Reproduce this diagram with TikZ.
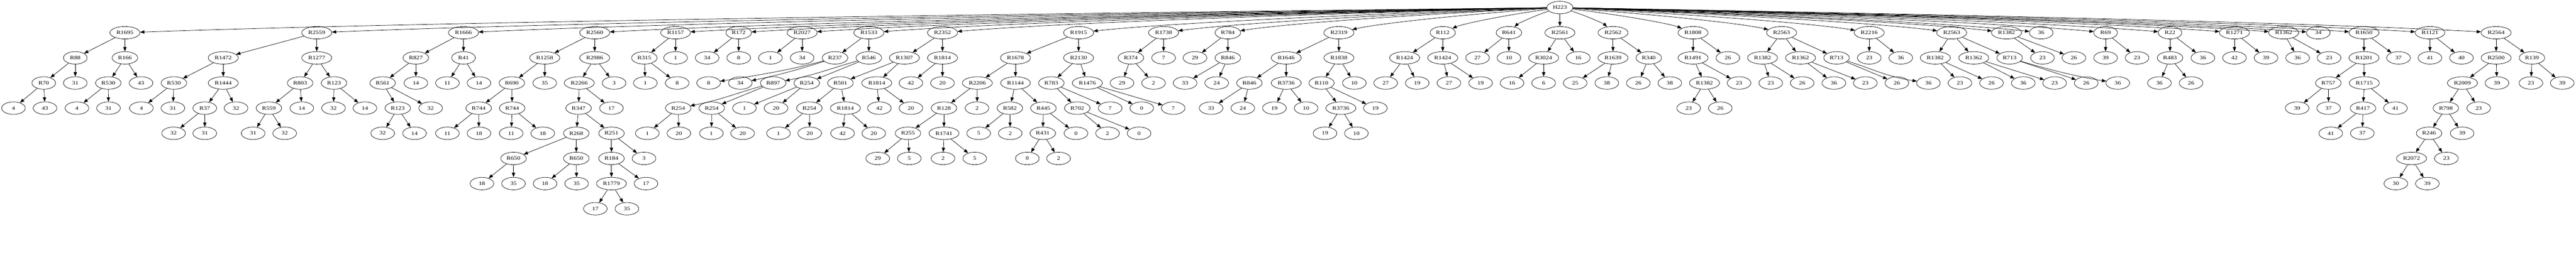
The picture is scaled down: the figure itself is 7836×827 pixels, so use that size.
\documentclass[tikz,border=0pt]{standalone}
\usepackage{fontspec}
\setmainfont{Liberation Serif}[FakeStretch=1.24]
\usetikzlibrary{arrows.meta,shapes.geometric}
\tikzset{
  nd/.style={ellipse, draw, line width=0.28pt, minimum width=18pt, minimum height=9.5pt,
    inner xsep=1.625pt, inner ysep=0pt, font=\fontsize{3.9}{4.5}\selectfont},
  edge/.style={line width=0.28pt, -{Triangle[length=3.3pt,width=2.5pt]}},
}
\newcommand\ND[4]{\node[nd] (#1) at (#2,{23+76.5*#3}) {#4};}
\newcommand\CH[5]{\ND{#2}{#3}{#4}{#5}\draw[edge] (#1) -- (#2);}
\newcommand\CC[7]{\ND{#2}{#3}{#4}{#5}\draw[edge] (#1) .. controls +#6 and +#7 .. (#2);}
\newcommand\RT[3]{\ND{#1}{#2}{1}{#3}\draw[edge] (root) .. controls ({(4745+#2)/2},47.7) and ({#2+(4745-#2)/6},73.2) .. (#1);}
\begin{document}
\begin{tikzpicture}[x=0.25pt,y=-0.25pt]
\fill[white] (0,0) rectangle (7836,827);
\useasboundingbox (0,0) rectangle (7836,827);
\ND{root}{4745}{0}{H223}
% 1
\RT{a}{380}{R1695}
\CH{a}{aa}{229}{2}{R88}
\CH{aa}{aaa}{133}{3}{R70}
\CH{aaa}{aaaa}{41}{4}{4}
\CH{aaa}{aaab}{137}{4}{43}
\CH{aa}{aab}{229}{3}{31}
\CH{a}{ab}{380}{2}{R166}
\CH{ab}{aba}{329.5}{3}{R530}
\CH{aba}{abaa}{234}{4}{4}
\CH{aba}{abab}{330}{4}{31}
\CH{ab}{abb}{429}{3}{43}
% 2
\RT{b}{963.5}{R2559}
\CH{b}{ba}{679}{2}{R1472}
\CH{ba}{baa}{529}{3}{R530}
\CH{baa}{baaa}{430}{4}{4}
\CH{baa}{baab}{526}{4}{31}
\CH{ba}{bab}{679}{3}{R1444}
\CH{bab}{baba}{623}{4}{R37}
\CH{baba}{babaa}{528}{5}{32}
\CH{baba}{babab}{623}{5}{31}
\CH{bab}{babb}{718}{4}{32}
\CH{b}{bb}{963.5}{2}{R1277}
\CH{bb}{bba}{913}{3}{R803}
\CH{bba}{bbaa}{818}{4}{R559}
\CH{bbaa}{bbaaa}{770}{5}{31}
\CH{bbaa}{bbaab}{866}{5}{32}
\CH{bba}{bbab}{918}{4}{14}
\CH{bb}{bbb}{1016}{3}{R123}
\CH{bbb}{bbba}{1014.5}{4}{32}
\CH{bbb}{bbbb}{1110}{4}{14}
% 3
\RT{c}{1410}{R1666}
\CH{c}{ca}{1265}{2}{R827}
\CH{ca}{caa}{1164}{3}{R561}
\CH{caa}{caaa}{1210}{4}{R123}
\CH{caaa}{caaaa}{1164}{5}{32}
\CH{caaa}{caaab}{1261}{5}{14}
\CH{caa}{caab}{1310}{4}{32}
\CH{ca}{cab}{1265}{3}{14}
\CH{c}{cb}{1410}{2}{R41}
\CH{cb}{cba}{1361}{3}{11}
\CH{cb}{cbb}{1457}{3}{14}
% 4
\RT{d}{1809}{R2560}
\CH{d}{da}{1657}{2}{R1258}
\CH{da}{daa}{1557}{3}{R690}
\CH{daa}{daaa}{1456}{4}{R744}
\CH{daaa}{daaaa}{1361}{5}{11}
\CH{daaa}{daaab}{1457}{5}{18}
\CH{daa}{daab}{1558}{4}{R744}
\CH{daab}{daaba}{1555}{5}{11}
\CH{daab}{daabb}{1651}{5}{18}
\CH{da}{dab}{1657}{3}{35}
\CH{d}{db}{1809}{2}{R2986}
\CH{db}{dba}{1762}{3}{R2266}
\CH{dba}{dbaa}{1760}{4}{R347}
\CH{dbaa}{dbaaa}{1753}{5}{R268}
\CH{dbaaa}{dbaaaa}{1562}{6}{R650}
\CH{dbaaaa}{dbaaaaa}{1466}{7}{18}
\CH{dbaaaa}{dbaaaab}{1562}{7}{35}
\CH{dbaaa}{dbaaab}{1753}{6}{R650}
\CH{dbaaab}{dbaaaba}{1658}{7}{18}
\CH{dbaaab}{dbaaabb}{1754}{7}{35}
\CH{dbaa}{dbaab}{1860}{5}{R251}
\CH{dbaab}{dbaaba}{1860}{6}{R184}
\CH{dbaaba}{dbaabaa}{1860}{7}{R1779}
\CH{dbaabaa}{dbaabaaa}{1811}{8}{17}
\CH{dbaabaa}{dbaabaab}{1907}{8}{35}
\CH{dbaaba}{dbaabab}{1965}{7}{17}
\CH{dbaab}{dbaabb}{1959}{6}{3}
\CH{dba}{dbab}{1860}{4}{17}
\CH{db}{dbb}{1868}{3}{3}
% 5
\RT{e}{2055}{R1157}
\CH{e}{ea}{1960}{2}{R315}
\CH{ea}{eaa}{1963}{3}{1}
\CH{ea}{eab}{2060}{3}{8}
\CH{e}{eb}{2055}{2}{1}
% 6
\RT{f}{2247}{R172}
\CH{f}{fa}{2151}{2}{34}
\CH{f}{fb}{2247}{2}{8}
% 7
\RT{g}{2440}{R2027}
\CH{g}{ga}{2343.5}{2}{1}
\CH{g}{gb}{2440}{2}{34}
% 8
\RT{h}{2643}{R1533}
\CH{h}{ha}{2540}{2}{R237}
\CC{ha}{haa}{2155.5}{3}{8}{(-130,35)}{(160,-25)}
\CC{ha}{hab}{2252}{3}{34}{(-110,35)}{(120,-25)}
\CH{h}{hb}{2643}{2}{R546}
\CC{hb}{hba}{2352}{3}{R897}{(-110,30)}{(130,-25)}
\CH{hb}{hbb}{2454}{3}{R254}
\CC{hba}{hbaa}{2063}{4}{R254}{(-110,30)}{(130,-25)}
\CH{hba}{hbab}{2165}{4}{R254}
\CH{hbaa}{hbaaa}{1969}{5}{1}
\CH{hbaa}{hbaab}{2065}{5}{20}
\CH{hbab}{hbaba}{2164}{5}{1}
\CH{hbab}{hbabb}{2259}{5}{20}
\CH{hbb}{hbba}{2264.5}{4}{1}
\CH{hbb}{hbbb}{2360.6}{4}{20}
% 9
\RT{i}{2867}{R2352}
\CH{i}{ia}{2751}{2}{R1307}
\CH{ia}{iaa}{2556.5}{3}{R501}
\CH{iaa}{iaaa}{2462}{4}{R254}
\CH{iaaa}{iaaaa}{2368}{5}{1}
\CH{iaaa}{iaaab}{2463}{5}{20}
\CH{iaa}{iaab}{2571.6}{4}{R1814}
\CH{iaab}{iaaba}{2563}{5}{42}
\CH{iaab}{iaabb}{2658}{5}{20}
\CH{ia}{iab}{2667}{3}{R1814}
\CH{iab}{iaba}{2675}{4}{42}
\CH{iab}{iabb}{2771}{4}{20}
\CH{i}{ib}{2867}{2}{R1814}
\CH{ib}{iba}{2771}{3}{42}
\CH{ib}{ibb}{2867}{3}{20}
% 10
\RT{j}{3281}{R1915}
\CH{j}{ja}{3089}{2}{R1678}
\CH{ja}{jaa}{2973}{3}{R2206}
\CH{jaa}{jaaa}{2871.5}{4}{R128}
\CH{jaaa}{jaaaa}{2762}{5}{R255}
\CH{jaaaa}{jaaaaa}{2670}{6}{29}
\CH{jaaaa}{jaaaab}{2766}{6}{5}
\CH{jaaa}{jaaab}{2871.5}{5}{R1741}
\CH{jaaab}{jaaaba}{2868.6}{6}{2}
\CH{jaaab}{jaaabb}{2965}{6}{5}
\CH{jaa}{jaab}{2972}{4}{2}
\CH{ja}{jab}{3089}{3}{R1144}
\CH{jab}{jaba}{3072}{4}{R582}
\CH{jaba}{jabaa}{2977}{5}{5}
\CH{jaba}{jabab}{3073}{5}{2}
\CH{jab}{jabb}{3174}{4}{R445}
\CH{jabb}{jabba}{3172}{5}{R431}
\CH{jabba}{jabbaa}{3125}{6}{0}
\CH{jabba}{jabbab}{3220}{6}{2}
\CH{jabb}{jabbb}{3273}{5}{0}
\CH{j}{jb}{3281}{2}{R2130}
\CH{jb}{jba}{3198}{3}{R783}
\CH{jba}{jbaa}{3277}{4}{R702}
\CH{jbaa}{jbaaa}{3369}{5}{2}
\CH{jbaa}{jbaab}{3465}{5}{0}
\CH{jba}{jbab}{3377}{4}{7}
\CH{jb}{jbb}{3307.6}{3}{R1476}
\CH{jbb}{jbba}{3473}{4}{0}
\CH{jbb}{jbbb}{3568.7}{4}{7}
% 11
\RT{k}{3539.5}{R1738}
\CH{k}{ka}{3440}{2}{R374}
\CH{ka}{kaa}{3413}{3}{29}
\CH{ka}{kab}{3509}{3}{2}
\CH{k}{kb}{3539.5}{2}{7}
% 12
\RT{l}{3735}{R784}
\CH{l}{la}{3635}{2}{29}
\CH{l}{lb}{3735}{2}{R846}
\CH{lb}{lba}{3605}{3}{33}
\CH{lb}{lbb}{3701}{3}{24}
% 13
\RT{m}{4072.8}{R2319}
\CH{m}{ma}{3912.5}{2}{R1646}
\CH{ma}{maa}{3800.5}{3}{R846}
\CH{maa}{maaa}{3684}{4}{33}
\CH{maa}{maab}{3780.5}{4}{24}
\CH{ma}{mab}{3912.5}{3}{R3736}
\CH{mab}{maba}{3876.6}{4}{19}
\CH{mab}{mabb}{3973}{4}{10}
\CH{m}{mb}{4072.8}{2}{R1838}
\CH{mb}{mba}{4020}{3}{R110}
\CH{mba}{mbaa}{4078.7}{4}{R3736}
\CH{mbaa}{mbaaa}{4030.5}{5}{19}
\CH{mbaa}{mbaab}{4126}{5}{10}
\CH{mba}{mbab}{4183.7}{4}{19}
\CH{mb}{mbb}{4119.7}{3}{10}
% 14
\RT{n}{4388.7}{R112}
\CH{n}{na}{4272.8}{2}{R1424}
\CH{na}{naa}{4215}{3}{27}
\CH{na}{nab}{4311}{3}{19}
\CH{n}{nb}{4388.7}{2}{R1424}
\CH{nb}{nba}{4407.5}{3}{27}
\CH{nb}{nbb}{4503.8}{3}{19}
% 15
\RT{o}{4590}{R641}
\CH{o}{oa}{4494.6}{2}{27}
\CH{o}{ob}{4590}{2}{10}
% 16
\RT{p}{4745}{R2561}
\CH{p}{pa}{4695.7}{2}{R3024}
\CH{pa}{paa}{4599.5}{3}{16}
\CH{pa}{pab}{4695.7}{3}{6}
\CH{p}{pb}{4801}{2}{16}
% 17
\RT{q}{4906.6}{R2562}
\CH{q}{qa}{4906.6}{2}{R1639}
\CH{qa}{qaa}{4791.6}{3}{25}
\CH{qa}{qab}{4887.8}{3}{38}
\CH{q}{qb}{5015.4}{2}{R340}
\CH{qb}{qba}{4983.6}{3}{26}
\CH{qb}{qbb}{5079.4}{3}{38}
% 18
\RT{r}{5150}{R1808}
\CH{r}{ra}{5150}{2}{R1491}
\CH{ra}{raa}{5184.9}{3}{R1382}
\CH{raa}{raaa}{5136.75}{4}{23}
\CH{raa}{raab}{5233}{4}{26}
\CH{ra}{rab}{5290}{3}{23}
\CH{r}{rb}{5256}{2}{26}
% 19
\RT{s}{5419.5}{R2563}
\CH{s}{sa}{5361.4}{2}{R1382}
\CH{sa}{saa}{5386.5}{3}{23}
\CH{sa}{sab}{5482}{3}{26}
\CH{s}{sb}{5477}{2}{R1362}
\CH{sb}{sba}{5578.5}{3}{36}
\CH{sb}{sbb}{5674}{3}{23}
\CH{s}{sc}{5586.5}{2}{R713}
\CH{sc}{sca}{5770}{3}{26}
\CC{sc}{scb}{5866}{3}{36}{(100,30)}{(-130,-20)}
% 20
\RT{t}{5686}{R2216}
\CH{t}{ta}{5686}{2}{23}
\CH{t}{tb}{5782}{2}{36}
% 21
\RT{u}{5937}{R2563}
\CH{u}{ua}{5887}{2}{R1382}
\CH{ua}{uaa}{5962}{3}{23}
\CH{ua}{uab}{6058}{3}{26}
\CH{u}{ub}{6004}{2}{R1362}
\CH{ub}{uba}{6154.6}{3}{36}
\CH{ub}{ubb}{6250}{3}{23}
\CH{u}{uc}{6113}{2}{R713}
\CH{uc}{uca}{6346}{3}{26}
\CC{uc}{ucb}{6442}{3}{36}{(100,30)}{(-130,-20)}
% 22
\RT{v}{6103.6}{R1382}
\CH{v}{va}{6213}{2}{23}
\CH{v}{vb}{6308.6}{2}{26}
% 23
\RT{w}{6209}{36}
% 24
\RT{X}{6405}{R69}
\CH{X}{Xa}{6405}{2}{39}
\CH{X}{Xb}{6500.6}{2}{23}
% 25
\RT{Y}{6601}{R22}
\CH{Y}{Ya}{6601}{2}{R483}
\CH{Ya}{Yaa}{6568.8}{3}{36}
\CH{Ya}{Yab}{6665}{3}{26}
\CH{Y}{Yb}{6701}{2}{36}
% 26
\RT{z}{6797}{R1271}
\CH{z}{za}{6797}{2}{42}
\CH{z}{zb}{6893}{2}{39}
% 27
\RT{A}{6946.6}{R1362}
\CH{A}{Aa}{6989}{2}{36}
\CH{A}{Ab}{7084.7}{2}{23}
% 28
\RT{B}{7052}{34}
% 29
\RT{C}{7191}{R1650}
\CH{C}{Ca}{7191}{2}{R1201}
\CH{Ca}{Caa}{7082.6}{3}{R757}
\CH{Caa}{Caaa}{6987.6}{4}{39}
\CH{Caa}{Caab}{7083.4}{4}{37}
\CH{Ca}{Cab}{7192}{3}{R1715}
\CH{Cab}{Caba}{7188}{4}{R417}
\CH{Caba}{Cabaa}{7090}{5}{41}
\CH{Caba}{Cabab}{7186}{5}{37}
\CH{Cab}{Cabb}{7286.7}{4}{41}
\CH{C}{Cb}{7296}{2}{37}
% 30
\RT{D}{7391.7}{R1121}
\CH{D}{Da}{7391.7}{2}{41}
\CH{D}{Db}{7487.5}{2}{40}
% 31
\RT{E}{7593}{R2564}
\CH{E}{Ea}{7593}{2}{R2500}
\CH{Ea}{Eaa}{7490.5}{3}{R2009}
\CH{Eaa}{Eaaa}{7440}{4}{R798}
\CH{Eaaa}{Eaaaa}{7389}{5}{R246}
\CH{Eaaaa}{Eaaaaa}{7335.6}{6}{R2072}
\CH{Eaaaaa}{Eaaaaaa}{7288}{7}{30}
\CH{Eaaaaa}{Eaaaaab}{7383.8}{7}{39}
\CH{Eaaaa}{Eaaaab}{7441.5}{6}{23}
\CH{Eaaa}{Eaaab}{7489.6}{5}{39}
\CH{Eaa}{Eaab}{7540}{4}{23}
\CH{Ea}{Eab}{7595.5}{3}{39}
\CH{E}{Eb}{7702}{2}{R139}
\CH{Eb}{Eba}{7698.8}{3}{23}
\CH{Eb}{Ebb}{7794}{3}{39}
\end{tikzpicture}
\end{document}
